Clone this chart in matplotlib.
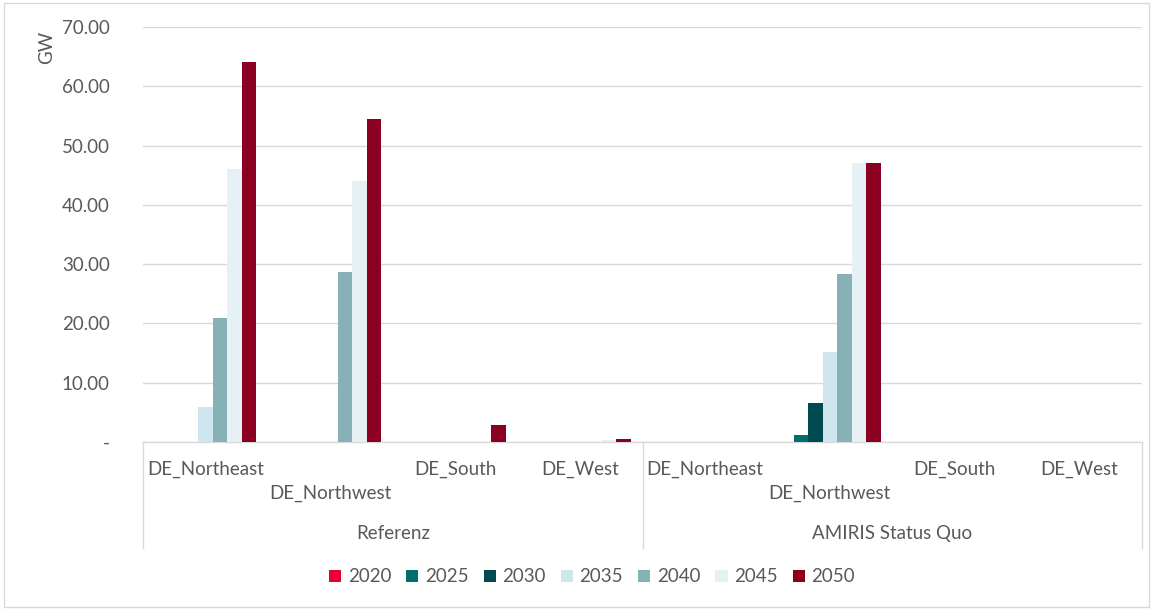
import numpy as np
import matplotlib.pyplot as plt
from matplotlib.patches import Rectangle

plt.rcParams['font.family'] = ['Lato', 'DejaVu Sans']

# categories
regions = ['DE_Northeast', 'DE_Northwest', 'DE_South', 'DE_West']
scenarios = ['Referenz', 'AMIRIS Status Quo']
years = ['2020', '2025', '2030', '2035', '2040', '2045', '2050']
colors = ['#E4003A', '#006E6E', '#004B50', '#D0E6EE', '#86B1B6', '#E6F1F6', '#8B0020']

# values per year, 8 categories (Referenz x4, AMIRIS x4)
v2020 = [0, 0, 0, 0, 0, 0, 0, 0]
v2025 = [0, 0, 0, 0, 0, 1.2, 0, 0]
v2030 = [0, 0, 0, 0, 0, 6.6, 0, 0]
v2035 = [5.9, 0, 0, 0, 0, 15.2, 0, 0]
v2040 = [20.9, 28.6, 0, 0, 0, 28.3, 0, 0]
v2045 = [46.0, 44.0, 0, 0.4, 0, 47.0, 0, 0]
v2050 = [64.1, 54.4, 2.8, 0.5, 0, 47.1, 0, 0]
series = [v2020, v2025, v2030, v2035, v2040, v2045, v2050]

txt = '#595959'
fs = 13.5
fig = plt.figure(figsize=(11.51, 6.10), dpi=100)
ax = fig.add_axes([143/1151, 1-442/610, 999/1151, 415/610])

n = len(regions) * len(scenarios)
x = np.arange(n)
w = 0.116
for i, (vals, c) in enumerate(zip(series, colors)):
    ax.bar(x + (i - 3) * w, vals, width=w, color=c, label=years[i], zorder=3)

ax.set_xlim(-0.5, n - 0.5)
ax.set_ylim(0, 70)
ax.set_yticks(np.arange(0, 71, 10))
ax.set_yticklabels(['-'] + ['%.2f' % v for v in range(10, 71, 10)])
ax.tick_params(axis='y', length=0, pad=24, labelsize=fs, labelcolor=txt)
ax.grid(axis='y', color='#D9D9D9', linewidth=1, zorder=0)
ax.set_xticks([])
for s in ['top', 'right', 'left']:
    ax.spines[s].set_visible(False)
ax.spines['bottom'].set_color('#D9D9D9')
ax.spines['bottom'].set_linewidth(1)
ax.set_ylabel('GW', color=txt, fontsize=fs)
ax.yaxis.set_label_coords(-0.088, 0.95)

# multi-level category labels
trans = ax.get_xaxis_transform()
for j in range(n):
    name = regions[j % 4]
    y = -0.123 if name == 'DE_Northwest' else -0.065
    ax.text(j, y, name, transform=trans, ha='center', va='center',
            fontsize=fs, color=txt)
for k, sc in enumerate(scenarios):
    ax.text(k * 4 + 1.5, -0.22, sc, transform=trans, ha='center', va='center',
            fontsize=fs, color=txt)
for xb in [-0.5, 3.5, 7.5]:
    ax.plot([xb, xb], [0, -0.255], transform=trans, color='#D9D9D9',
            linewidth=1, clip_on=False)

leg = fig.legend(loc='center', bbox_to_anchor=(592/1151, 1-577/610), ncol=7,
                 frameon=False, fontsize=fs, handlelength=0.65, handleheight=0.65,
                 columnspacing=0.8, handletextpad=0.35)
for t in leg.get_texts():
    t.set_color(txt)

fig.patches.append(Rectangle((4/1151, 3/610), 1145/1151, 604/610, transform=fig.transFigure,
                             fill=False, edgecolor='#D9D9D9', linewidth=1))

fig.savefig('out.png', dpi=100)
